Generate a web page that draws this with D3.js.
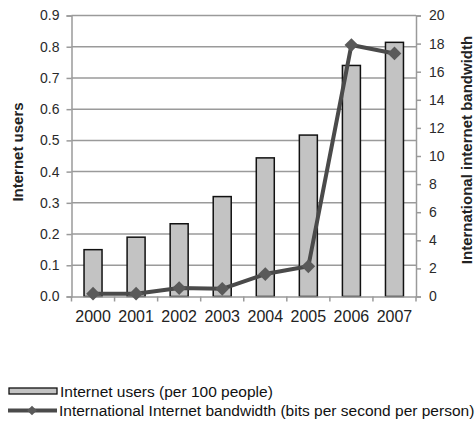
<!DOCTYPE html>
<html>
<head>
<meta charset="utf-8">
<script src="https://cdn.jsdelivr.net/npm/d3@7"></script>
<style>
  body { margin: 0; background: #fff; }
  svg { display: block; font-family: "Liberation Sans", Arial, sans-serif; }
</style>
</head>
<body>
<svg id="chart" width="476" height="423"></svg>
<script>
// Years on the category axis
const years = ["2000", "2001", "2002", "2003", "2004", "2005", "2006", "2007"];
// Internet users (per 100 people) — bars, left axis
const users = [0.15, 0.19, 0.233, 0.32, 0.444, 0.517, 0.74, 0.814];
// International Internet bandwidth (bits per second per person) — line, right axis
const bandwidth = [0.2, 0.2, 0.6, 0.55, 1.6, 2.15, 17.9, 17.3];
// Axis ticks
const leftTicks = [0, 0.1, 0.2, 0.3, 0.4, 0.5, 0.6, 0.7, 0.8, 0.9];
const rightTicks = [0, 2, 4, 6, 8, 10, 12, 14, 16, 18, 20];

const svg = d3.select("#chart");
const m = { left: 71.5, right: 416, top: 15.5, bottom: 296.5 };

const x = d3.scaleBand().domain(years).range([m.left, m.right]).paddingInner(0).paddingOuter(0);
const yL = d3.scaleLinear().domain([0, 0.9]).range([m.bottom, m.top]);
const yR = d3.scaleLinear().domain([0, 20]).range([m.bottom, m.top]);

const gridColor = "#9a9a9a";
const textColor = "#2a2a2a";

// Horizontal gridlines
svg.append("g").selectAll("line").data(leftTicks.filter(d => d > 0)).join("line")
  .attr("x1", m.left).attr("x2", m.right)
  .attr("y1", d => yL(d)).attr("y2", d => yL(d))
  .attr("stroke", gridColor).attr("stroke-width", 1.5);

// Bars
const barW = 18;
svg.append("g").selectAll("rect").data(users).join("rect")
  .attr("x", (d, i) => x(years[i]) + x.bandwidth() / 2 - barW / 2)
  .attr("y", d => yL(d))
  .attr("width", barW)
  .attr("height", d => yL(0) - yL(d))
  .attr("fill", "#c3c3c3")
  .attr("stroke", "#111")
  .attr("stroke-width", 1.5);

// Left axis
const axL = svg.append("g").attr("transform", `translate(${m.left},0)`)
  .call(d3.axisLeft(yL).tickValues(leftTicks).tickFormat(d3.format(".1f")).tickSize(5).tickPadding(7));
// Right axis
const axR = svg.append("g").attr("transform", `translate(${m.right},0)`)
  .call(d3.axisRight(yR).tickValues(rightTicks).tickFormat(d3.format("d")).tickSize(5).tickPadding(8));
// Bottom axis: ticks on category boundaries
const axB = svg.append("g").attr("transform", `translate(0,${m.bottom})`)
  .call(d3.axisBottom(x).tickSize(0).tickPadding(14));
svg.append("g").selectAll("line").data(years.concat(["end"])).join("line")
  .attr("x1", (d, i) => m.left + i * x.bandwidth()).attr("x2", (d, i) => m.left + i * x.bandwidth())
  .attr("y1", m.bottom).attr("y2", m.bottom + 5)
  .attr("stroke", gridColor).attr("stroke-width", 1.5);

[axL, axR, axB].forEach(g => {
  g.selectAll(".domain").attr("stroke", gridColor).attr("stroke-width", 1.5);
  g.selectAll(".tick line").attr("stroke", gridColor).attr("stroke-width", 1.5);
  g.selectAll("text").attr("fill", textColor).attr("font-size", 14);
});
axB.selectAll("text").attr("font-size", 16).attr("fill", "#222");

// Bandwidth line with diamond markers
const line = d3.line()
  .x((d, i) => x(years[i]) + x.bandwidth() / 2)
  .y(d => yR(d));
svg.append("path").datum(bandwidth)
  .attr("d", line)
  .attr("fill", "none")
  .attr("stroke", "#4a4a4a")
  .attr("stroke-width", 4)
  .attr("stroke-linejoin", "round");
svg.append("g").selectAll("path").data(bandwidth).join("path")
  .attr("transform", (d, i) => `translate(${x(years[i]) + x.bandwidth() / 2},${yR(d)})`)
  .attr("d", d3.symbol(d3.symbolDiamond2, 120))
  .attr("fill", "#5a5a5a");

// Axis titles
svg.append("text")
  .attr("transform", "translate(23,152) rotate(-90)")
  .attr("text-anchor", "middle")
  .attr("font-size", 15).attr("font-weight", "bold").attr("fill", "#222")
  .text("Internet users");
svg.append("text")
  .attr("transform", "translate(472,150) rotate(-90)")
  .attr("text-anchor", "middle")
  .attr("font-size", 15).attr("font-weight", "bold").attr("fill", "#222")
  .text("International internet bandwidth");

// Legend
const lg = svg.append("g");
lg.append("rect").attr("x", 9).attr("y", 388).attr("width", 48).attr("height", 6)
  .attr("fill", "#c3c3c3").attr("stroke", "#111").attr("stroke-width", 1.3);
lg.append("text").attr("x", 60).attr("y", 396.5).attr("font-size", 15.5).attr("fill", "#111")
  .text("Internet users (per 100 people)");
lg.append("line").attr("x1", 8).attr("x2", 57).attr("y1", 410.5).attr("y2", 410.5)
  .attr("stroke", "#4a4a4a").attr("stroke-width", 4);
lg.append("path").attr("transform", "translate(32,410.5)")
  .attr("d", d3.symbol(d3.symbolDiamond2, 60)).attr("fill", "#5a5a5a");
lg.append("text").attr("x", 59).attr("y", 416).attr("font-size", 15.5).attr("fill", "#111")
  .text("International Internet bandwidth (bits per second per person)");
</script>
</body>
</html>
